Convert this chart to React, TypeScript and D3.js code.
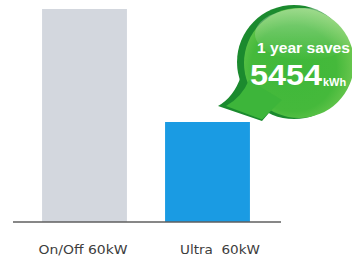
import React from "react";
import * as d3 from "d3";

const categories = ["On/Off 60kW", "Ultra  60kW"];
const values = [10280, 4826];
const barColors = ["#d3d7de", "#1a9be3"];
const labelCenters = [83, 220];
const labelWidths = [89, 80];
const savingTitle = "1 year saves";
const savingValue = "5454";
const savingUnit = "kWh";

export default function App() {
  const W = 352, H = 259;
  const baseY = 222;
  const x = d3.scaleBand<string>().domain(categories).range([23, 269]).paddingInner(0.31).paddingOuter(0.155);
  const y = d3.scaleLinear().domain([0, 10280]).range([baseY, 9]);

  const tailDark = d3.path();
  tailDark.moveTo(241, 76);
  tailDark.quadraticCurveTo(234, 97, 218, 106);
  tailDark.lineTo(262, 121);
  tailDark.lineTo(280, 100);
  tailDark.closePath();
  const tailLight = d3.path();
  tailLight.moveTo(249, 80);
  tailLight.quadraticCurveTo(242, 97, 226, 106);
  tailLight.lineTo(262, 119.5);
  tailLight.lineTo(282, 100);
  tailLight.closePath();

  const font = "'Liberation Sans', Arial, sans-serif";
  return (
    <svg width={W} height={H} style={{ position: "fixed", left: 0, top: 0, background: "#fff" }}>
      <defs>
        <radialGradient id="bg" cx="0.45" cy="0.55" r="0.65">
          <stop offset="0" stopColor="#3fb83a" />
          <stop offset="0.6" stopColor="#45b93b" />
          <stop offset="1" stopColor="#7fcf5a" />
        </radialGradient>
        <linearGradient id="hl" x1="0" y1="0" x2="0" y2="1">
          <stop offset="0" stopColor="#ffffff" stopOpacity={0.35} />
          <stop offset="1" stopColor="#ffffff" stopOpacity={0} />
        </linearGradient>
      </defs>
      {categories.map((c, i) => (
        <rect key={c} x={x(c)} y={y(values[i])} width={x.bandwidth()} height={baseY - y(values[i])} fill={barColors[i]} />
      ))}
      <line x1={13} x2={281} y1={baseY} y2={baseY} stroke="#5f5f5f" strokeWidth={1.5} />
      {categories.map((c, i) => (
        <text key={c} x={labelCenters[i]} y={254} textAnchor="middle" fontFamily="'DejaVu Sans', sans-serif" fontSize={12.5} fill="#3d3d3d" xmlSpace="preserve" textLength={labelWidths[i]} lengthAdjust="spacingAndGlyphs">{c}</text>
      ))}
      <g>
        <circle cx={294} cy={62} r={57} fill="#1b8a2e" />
        <path d={tailDark.toString()} fill="#1b8a2e" />
        <circle cx={299} cy={63} r={55} fill="url(#bg)" />
        <path d={tailLight.toString()} fill="#3db53a" />
        <ellipse cx={305} cy={34} rx={50} ry={26} fill="url(#hl)" />
        <text x={257} y={53} fontFamily={font} fontWeight="bold" fontSize={15} fill="#fff" textLength={93} lengthAdjust="spacingAndGlyphs">{savingTitle}</text>
        <text x={250} y={85} fontFamily={font} fontWeight="bold" fontSize={30} fill="#fff" textLength={72} lengthAdjust="spacingAndGlyphs">{savingValue}</text>
        <text x={323} y={86} fontFamily={font} fontWeight="bold" fontSize={11} fill="#fff">{savingUnit}</text>
      </g>
    </svg>
  );
}
